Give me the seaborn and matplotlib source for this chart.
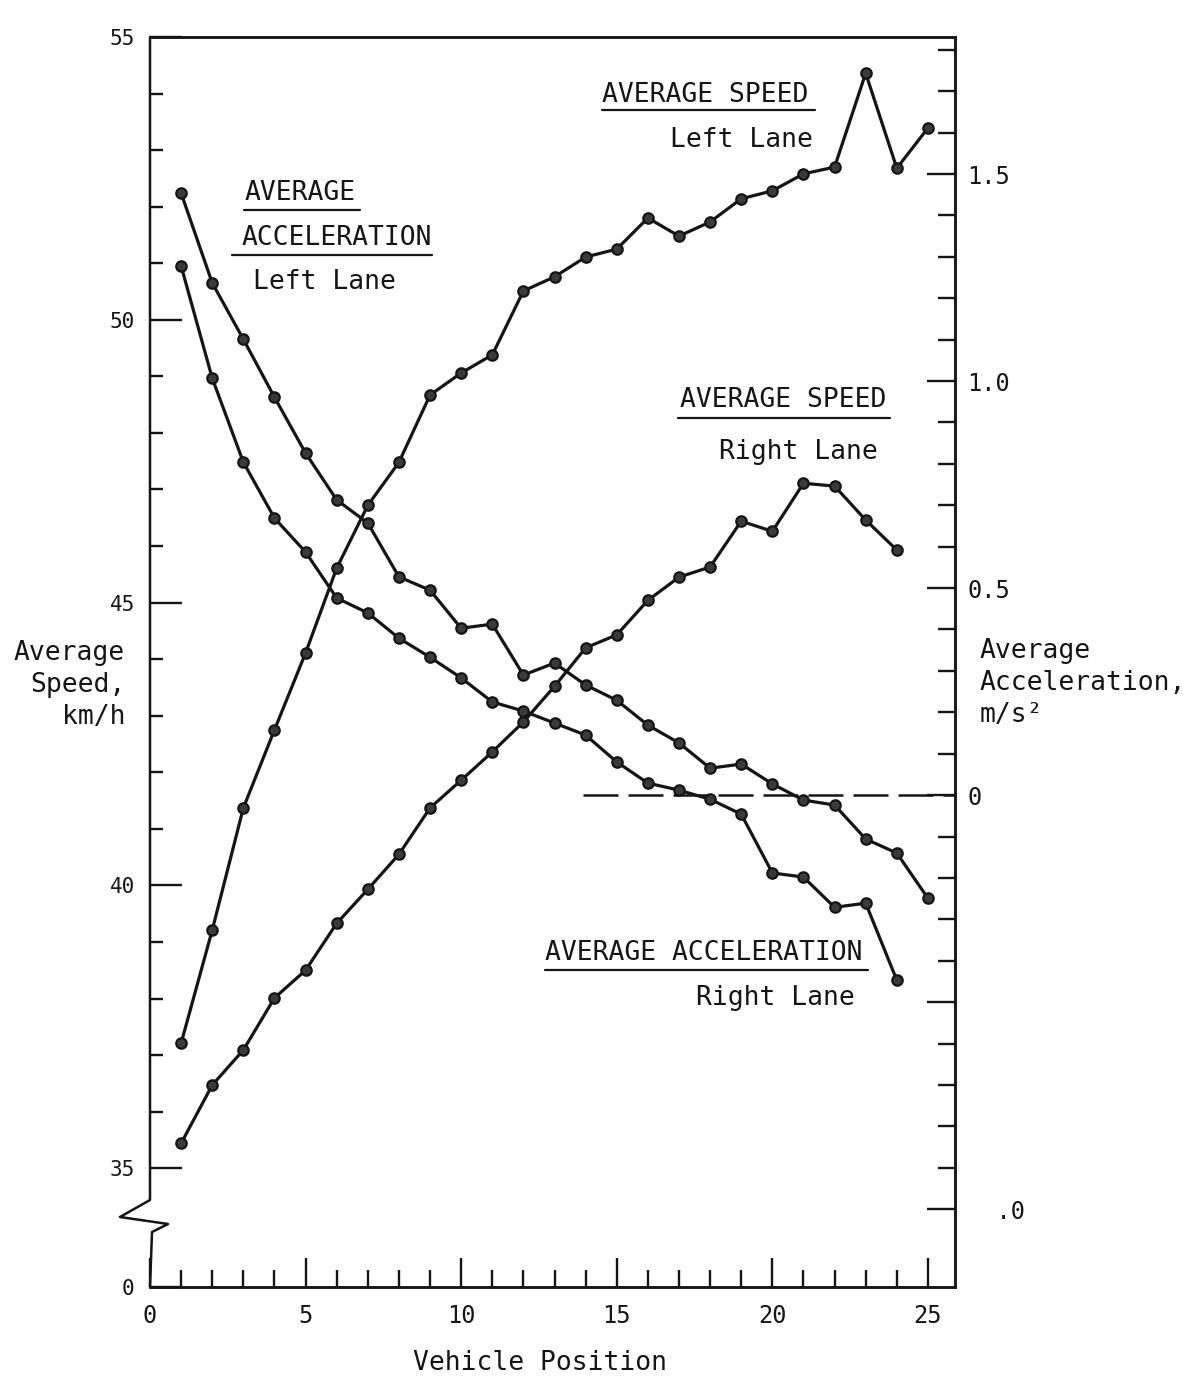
import numpy as np
import seaborn as sn
import matplotlib.pyplot as plt
from matplotlib.ticker import FixedLocator

# valores
position_25 = list(range(1, 26))
position_24 = list(range(1, 25))

speed_left = [37.21, 39.21, 41.37, 42.75, 44.11, 45.61, 46.72, 47.48, 48.67, 49.06,
              49.38, 50.51, 50.76, 51.11, 51.25, 51.80, 51.48, 51.73, 52.14, 52.28,
              52.58, 52.70, 54.36, 52.68, 53.39]
speed_right = [35.44, 36.47, 37.09, 38.01, 38.50, 39.33, 39.93, 40.55, 41.37, 41.86,
               42.36, 42.89, 43.52, 44.20, 44.43, 45.04, 45.45, 45.63, 46.44, 46.26,
               47.11, 47.06, 46.46, 45.93]
accel_left = [1.454, 1.237, 1.101, 0.961, 0.826, 0.713, 0.657, 0.527, 0.495, 0.403,
              0.413, 0.290, 0.319, 0.266, 0.229, 0.169, 0.126, 0.065, 0.075, 0.027,
              -0.012, -0.024, -0.106, -0.140, -0.249]
accel_right = [1.278, 1.007, 0.804, 0.669, 0.587, 0.476, 0.440, 0.379, 0.333, 0.283,
               0.225, 0.203, 0.174, 0.145, 0.080, 0.029, 0.012, -0.010, -0.046, -0.188,
               -0.198, -0.271, -0.261, -0.447]

position_ticks = [0, 5, 10, 15, 20, 25]
speed_floor = 32.9  # posicao do "0" abaixo da quebra do eixo
speed_ticks = [speed_floor, 35, 40, 45, 50, 55]
speed_tick_labels = ['0', '35', '40', '45', '50', '55']
accel_ticks = [-1.0, -0.5, 0.0, 0.5, 1.0, 1.5]
accel_tick_labels = ['  .0', '', '0', '0.5', '1.0', '1.5']
zero_line_start = 13.9

ink = '#151515'
sn.set_style('ticks', {'axes.edgecolor': ink, 'xtick.color': ink, 'ytick.color': ink,
                       'text.color': ink, 'axes.labelcolor': ink})
plt.rcParams['font.family'] = ['DejaVu Sans Mono']

fig = plt.figure(figsize=(11.9, 13.81), dpi=100)
ax = fig.add_axes([150 / 1190, 1 - 1287 / 1381, 805 / 1190, 1250 / 1381])
ax2 = ax.twinx()

line_kws = dict(color=ink, linewidth=2.3, marker='o', markersize=7.5,
                markerfacecolor='#3a3a3a', markeredgecolor=ink, markeredgewidth=1.6)
sn.lineplot(x=position_25, y=speed_left, ax=ax, **line_kws)
sn.lineplot(x=position_24, y=speed_right, ax=ax, **line_kws)
sn.lineplot(x=position_25, y=accel_left, ax=ax2, **line_kws)
sn.lineplot(x=position_24, y=accel_right, ax=ax2, **line_kws)
ax2.hlines(0, zero_line_start, 25.87, colors=ink, linewidth=1.8, linestyles=(0, (14, 4)))

ax.set_xlim(0, 25.87)
ax.set_ylim(speed_floor, 55)
ax2.set_ylim(-1.188, 1.831)

ax.set_xticks(position_ticks, labels=[str(t) for t in position_ticks])
ax.xaxis.set_minor_locator(FixedLocator([i for i in range(1, 26) if i % 5]))
ax.set_yticks(speed_ticks, labels=speed_tick_labels)
ax.yaxis.set_minor_locator(FixedLocator([v for v in range(36, 55) if v % 5]))
ax2.set_yticks(accel_ticks, labels=accel_tick_labels)
ax2.yaxis.set_minor_locator(FixedLocator([round(v / 10, 1) for v in range(-10, 19) if v % 5]))

ax.tick_params(axis='x', which='major', direction='in', length=21, width=1.7, pad=12,
               labelsize=17, top=False)
ax.tick_params(axis='x', which='minor', direction='in', length=12, width=1.7, top=False)
ax.tick_params(axis='y', which='major', direction='in', length=23, width=1.7, pad=11,
               labelsize=15, right=False)
ax.tick_params(axis='y', which='minor', direction='in', length=9.5, width=1.7, right=False)
ax2.tick_params(axis='y', which='major', direction='in', length=20, width=1.7, pad=9,
                labelsize=17, left=False)
ax2.tick_params(axis='y', which='minor', direction='in', length=12, width=1.7, left=False)

for a in (ax, ax2):
    for s in a.spines.values():
        s.set_linewidth(1.8)
    a.spines['left'].set_visible(False)

# eixo esquerdo com quebra
ax.plot([0, 0, -0.0373, 0.0224, 0.0025, 0], [1, 0.0696, 0.056, 0.0504, 0.044, 0],
        transform=ax.transAxes, clip_on=False, color=ink, linewidth=1.8)

ax.set_xlabel('Vehicle Position', fontsize=19)
ax.xaxis.set_label_coords(0.4845, -0.0504)
ax.set_ylabel('Average\nSpeed,\nkm/h', rotation=0, ha='right', va='center',
              multialignment='right', linespacing=1.3, fontsize=19)
ax.yaxis.set_label_coords(-0.031, 0.4816)
ax2.set_ylabel('Average\nAcceleration,\nm/s²', rotation=0, ha='left', va='center',
               multialignment='left', linespacing=1.3, fontsize=19)
ax2.yaxis.set_label_coords(1.031, 0.483)

notes = [
    ('AVERAGE SPEED', 0.5615, 0.954, 'left'),
    ('Left Lane', 0.8236, 0.9176, 'right'),
    ('AVERAGE', 0.1168, 0.8752, 'left'),
    ('ACCELERATION', 0.1143, 0.8392, 'left'),
    ('Left Lane', 0.128, 0.804, 'left'),
    ('AVERAGE SPEED', 0.6584, 0.7096, 'left'),
    ('Right Lane', 0.9043, 0.668, 'right'),
    ('AVERAGE ACCELERATION', 0.4907, 0.2672, 'left'),
    ('Right Lane', 0.8758, 0.2312, 'right'),
]
for text, x, y, ha in notes:
    ax.text(x, y, text, transform=ax.transAxes, ha=ha, va='center', fontsize=19)

underlines = [
    (0.5615, 0.826, 0.9416),
    (0.1168, 0.2609, 0.8616),
    (0.1019, 0.3503, 0.8256),
    (0.6559, 0.9193, 0.6952),
    (0.4907, 0.8919, 0.2536),
]
for x0, x1, y in underlines:
    ax.plot([x0, x1], [y, y], transform=ax.transAxes, color=ink, linewidth=1.6)

plt.savefig('out.png', dpi=100)
